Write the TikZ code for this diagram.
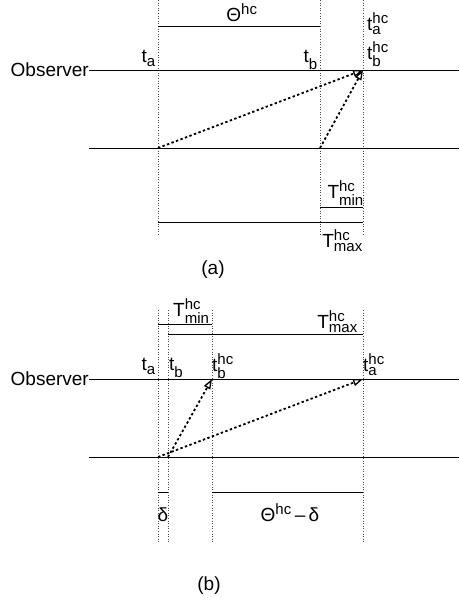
\documentclass[tikz,border=0pt]{standalone}
\usepackage{amsmath}
\usepackage{fontspec}
\setmainfont{Liberation Sans}
\usepackage{tikz}
\usetikzlibrary{arrows.meta}
\DeclareMathSizes{19}{19}{15}{12}
\newcommand{\tl}[3]{#1$_{\text{#2}}^{\text{#3}}$}
\tikzset{
  lbl/.style={font=\fontsize{19}{22}\selectfont,inner sep=0pt},
  guide/.style={dotted,line width=0.6pt,draw=black!70},
  axisline/.style={line width=0.9pt},
  span/.style={line width=0.9pt},
  msg/.style={line width=1.8pt,dash pattern=on 2.4pt off 2.4pt,
    -{Triangle[open,length=10pt,width=7pt,line width=1.3pt]}},
}
\begin{document}
\begin{tikzpicture}[x=1pt,y=-1pt]
  \useasboundingbox (0,0) rectangle (459,600);
  % ---------------- (a) ----------------
  \foreach \n/\x in {ta/158,tb/320,th/363} {
    \coordinate (a\n top) at (\x,0);
    \coordinate (a\n bot) at (\x,236);
    \draw[guide] (a\n top) -- (a\n bot);
  }
  \node[lbl,anchor=east] (aobs) at (89,70) {Observer};
  \coordinate (aobsR) at (459,70);
  \draw[axisline] (aobs.east) -- (aobsR);
  \coordinate (alowL) at (89,148);
  \coordinate (alowR) at (459,148);
  \draw[axisline] (alowL) -- (alowR);
  \coordinate (asendA) at (158,148);
  \coordinate (asendB) at (320,148);
  \coordinate (arecv) at (363,70);
  \draw[msg] (asendA) -- (arecv);
  \draw[msg] (asendB) -- (arecv);
  % spans
  \coordinate (athL) at (158,26); \coordinate (athR) at (320,26);
  \draw[span] (athL) -- (athR);
  \coordinate (aminL) at (320,207); \coordinate (aminR) at (363,207);
  \draw[span] (aminL) -- (aminR);
  \coordinate (amaxL) at (158,222); \coordinate (amaxR) at (363,222);
  \draw[span] (amaxL) -- (amaxR);
  % labels
  \node[lbl,anchor=base] (ath) at (242,21) {Θ$^{\text{hc}}$};
  \node[lbl,anchor=base east] (ata) at (156,62) {\tl{t}{a}{}};
  \node[lbl,anchor=base east] (atb) at (318,62) {\tl{t}{b}{}};
  \node[lbl,anchor=base west] (atah) at (367,30) {\tl{t}{a}{hc}};
  \node[lbl,anchor=base west] (atbh) at (367,59) {\tl{t}{b}{hc}};
  \node[lbl,anchor=base east] (amin) at (364,198) {\tl{T}{min}{hc}};
  \node[lbl,anchor=base east] (amax) at (363,247) {\tl{T}{max}{hc}};
  \node[lbl] (acap) at (213,270) {(a)};
  % ---------------- (b) ----------------
  \foreach \n/\x in {ta/158,tb/168,tbh/212,tah/363} {
    \coordinate (b\n top) at (\x,310);
    \coordinate (b\n bot) at (\x,543);
    \draw[guide] (b\n top) -- (b\n bot);
  }
  \node[lbl,anchor=east] (bobs) at (89,379) {Observer};
  \coordinate (bobsR) at (459,379);
  \draw[axisline] (bobs.east) -- (bobsR);
  \coordinate (blowL) at (89,457);
  \coordinate (blowR) at (459,457);
  \draw[axisline] (blowL) -- (blowR);
  \coordinate (bsendA) at (158,457);
  \coordinate (bsendB) at (168,457);
  \coordinate (brecvB) at (212,379);
  \coordinate (brecvA) at (363,379);
  \draw[msg] (bsendB) -- (brecvB);
  \draw[msg] (bsendA) -- (brecvA);
  % spans
  \coordinate (bminL) at (158,324); \coordinate (bminR) at (212,324);
  \draw[span] (bminL) -- (bminR);
  \coordinate (bmaxL) at (168,334); \coordinate (bmaxR) at (363,334);
  \draw[span] (bmaxL) -- (bmaxR);
  \coordinate (bdL) at (158,492); \coordinate (bdR) at (168,492);
  \draw[span] (bdL) -- (bdR);
  \coordinate (bthL) at (212,492); \coordinate (bthR) at (363,492);
  \draw[span] (bthL) -- (bthR);
  % labels
  \node[lbl,anchor=base west] (bmin) at (173,316) {\tl{T}{min}{hc}};
  \node[lbl,anchor=base east] (bmax) at (358,328) {\tl{T}{max}{hc}};
  \node[lbl,anchor=base east] (bta) at (156,370) {\tl{t}{a}{}};
  \node[lbl,anchor=base west] (btb) at (169,370) {\tl{t}{b}{}};
  \node[lbl,anchor=base west] (btbh) at (212,371) {\tl{t}{b}{hc}};
  \node[lbl,anchor=base west] (btah) at (363,371) {\tl{t}{a}{hc}};
  \node[lbl,anchor=base] (bd) at (163,521) {δ};
  \node[lbl,anchor=base] (bth) at (290,521) {Θ$^{\text{hc}}$\,–\,δ};
  \node[lbl] (bcap) at (209,586) {(b)};
\end{tikzpicture}
\end{document}
